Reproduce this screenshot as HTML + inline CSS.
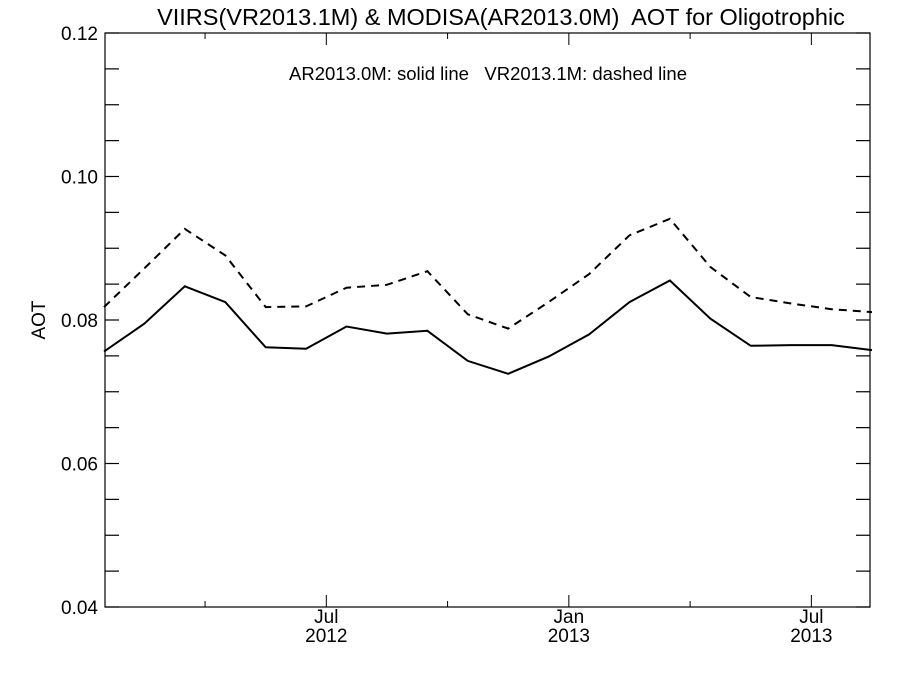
<!DOCTYPE html>
<html><head><meta charset="utf-8"><style>
body{margin:0;background:#fff;}
svg text{font-family:"Liberation Sans",Arial,sans-serif;fill:#000;white-space:pre;}
</style></head><body>
<svg id="chart" width="900" height="675" viewBox="0 0 900 675" xmlns="http://www.w3.org/2000/svg">
<text x="501" y="25" font-size="23.5" text-anchor="middle" xml:space="preserve">VIIRS(VR2013.1M) &amp; MODISA(AR2013.0M)  AOT for Oligotrophic</text>
<text x="488" y="80" font-size="18.5" text-anchor="middle" xml:space="preserve">AR2013.0M: solid line   VR2013.1M: dashed line</text>
<text x="45" y="320" font-size="19" text-anchor="middle" transform="rotate(-90 45 320)">AOT</text>
<rect x="105" y="33" width="765" height="574" fill="none" stroke="#000" stroke-width="1.2"/>
<g id="axes"></g>
<g id="series"></g>
</svg>
<script>
const months = ["Jan 2012","Feb 2012","Mar 2012","Apr 2012","May 2012","Jun 2012","Jul 2012","Aug 2012","Sep 2012","Oct 2012","Nov 2012","Dec 2012","Jan 2013","Feb 2013","Mar 2013","Apr 2013","May 2013","Jun 2013","Jul 2013","Aug 2013"];
const modisa = [0.0756,0.0795,0.0847,0.0825,0.0762,0.0760,0.0791,0.0781,0.0785,0.0743,0.0725,0.0749,0.0780,0.0825,0.0855,0.0802,0.0764,0.0765,0.0765,0.0758];
const viirs = [0.0818,0.0872,0.0927,0.0890,0.0818,0.0819,0.0845,0.0849,0.0868,0.0808,0.0788,0.0825,0.0864,0.0918,0.0941,0.0874,0.0832,0.0823,0.0815,0.0811];
const yTicks = [0.04,0.06,0.08,0.10,0.12];
const yTickLabels = ["0.04","0.06","0.08","0.10","0.12"];
const xMajorPos = [6,12,18];
const xMajorLabels = [["Jul","2012"],["Jan","2013"],["Jul","2013"]];
const xMinorPos = [3,9,15];

const L=105,R=870,T=33,B=607;
function x(i){return 104+i*(872-104)/19;}
function xm(m){return x(m-0.5);}
function y(v){return B-(v-0.04)/(0.08)*(B-T);}
const NS="http://www.w3.org/2000/svg";
const axes=document.getElementById('axes'), ser=document.getElementById('series');
function mk(tag,attrs,parent){const e=document.createElementNS(NS,tag);for(const k in attrs)e.setAttribute(k,attrs[k]);parent.appendChild(e);return e;}
for(let v=0.04;v<=0.1201;v+=0.005){
  const yy=y(v);
  const t1=mk('line',{x1:L,x2:L+14,y1:yy,y2:yy,stroke:'#000','stroke-width':1.2},axes);
  
  
  const t2=mk('line',{x1:R,x2:R-14,y1:yy,y2:yy,stroke:'#000','stroke-width':1.2},axes);
  
  
}
yTicks.forEach((v,i)=>{
  const t=mk('text',{x:98,y:y(v)+7,'font-size':19,'text-anchor':'end'},axes);
  t.textContent=yTickLabels[i];
  
  
});
xMajorPos.forEach((m,i)=>{
  const xx=xm(m);
  const a=mk('line',{x1:xx,x2:xx,y1:B,y2:B-12,stroke:'#000','stroke-width':1},axes);
  
  
  const b=mk('line',{x1:xx,x2:xx,y1:T,y2:T+12,stroke:'#000','stroke-width':1},axes);
  
  
  const t=mk('text',{x:xx,y:623,'font-size':19,'text-anchor':'middle'},axes);
  t.textContent=xMajorLabels[i][0];
  
  
  const t2=mk('text',{x:xx,y:642,'font-size':19,'text-anchor':'middle'},axes);
  t2.textContent=xMajorLabels[i][1];
  
  
});
xMinorPos.forEach(m=>{
  const xx=xm(m);
  const a=mk('line',{x1:xx,x2:xx,y1:B,y2:B-6,stroke:'#000','stroke-width':1},axes);
  
  
  const b=mk('line',{x1:xx,x2:xx,y1:T,y2:T+6,stroke:'#000','stroke-width':1},axes);
  
  
});
function pts(arr){return arr.map((v,i)=>x(i).toFixed(1)+','+y(v).toFixed(1)).join(' ');}
const s=mk('polyline',{points:pts(modisa),fill:'none',stroke:'#000','stroke-width':2},ser);


const d=mk('polyline',{points:pts(viirs),fill:'none',stroke:'#000','stroke-width':2,'stroke-dasharray':'8,6'},ser);


</script>
</body></html>
